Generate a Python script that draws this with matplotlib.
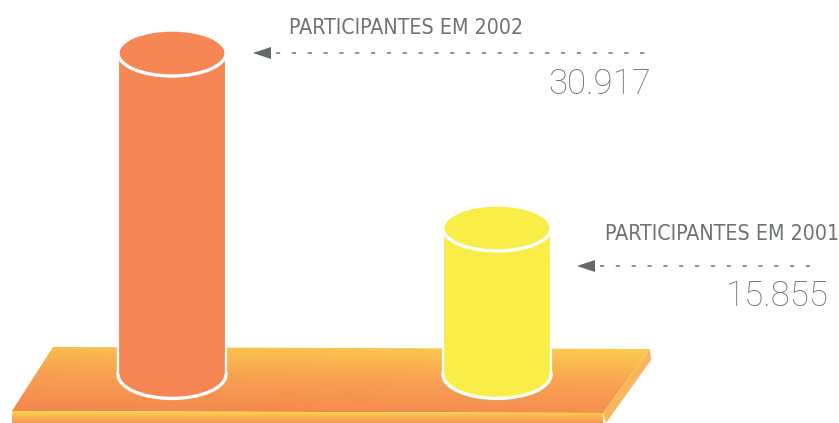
import matplotlib
matplotlib.use("Agg")
import matplotlib.pyplot as plt
import numpy as np
from matplotlib.colors import LinearSegmentedColormap
from matplotlib.patches import Ellipse, Polygon, Rectangle

# data
years = ["2002", "2001"]
participants = [30917, 15855]
labels = ["PARTICIPANTES EM 2002", "PARTICIPANTES EM 2001"]
value_text = ["30.917", "15.855"]
cyl_colors = ["#F68653", "#F9EE48"]

W, H = 839, 423
YLIM = (-930, 35480)  # value scale of the cylinder axes
BASE_V = 3250         # where the cylinders meet the platform
PX_PER_V = H / (YLIM[1] - YLIM[0])

GRAY = "#6d736d"

fig = plt.figure(figsize=(W / 100, H / 100), dpi=100)
fig.patch.set_facecolor("white")

# background axes in pixel coordinates: platform + annotations
bg = fig.add_axes([0, 0, 1, 1], zorder=0)
bg.set_xlim(0, W)
bg.set_ylim(H, 0)
bg.axis("off")

top_cmap = LinearSegmentedColormap.from_list("top", ["#F4854F", "#F7A052", "#FCCD4C"])
yy, xx = np.mgrid[0:1:200j, 0:1:400j]
grad = (1 - yy) * 0.85 + xx * 0.2
top = Polygon([(53, 347), (650, 349), (603, 413), (12, 411)], closed=True,
              facecolor="none", edgecolor="none")
bg.add_patch(top)
im = bg.imshow(grad, cmap=top_cmap, extent=[12, 650, 413, 347], origin="upper",
               aspect="auto", zorder=1)
im.set_clip_path(top)

side = Polygon([(650, 349), (651, 360), (606, 423), (603, 413)], closed=True,
               facecolor="#FAB65C", edgecolor="none", zorder=1)
bg.add_patch(side)

front_cmap = LinearSegmentedColormap.from_list("front", ["#FDD848", "#F9B24F", "#F59A52"])
front = Polygon([(12, 411), (603, 413), (603, 423), (12, 423)], closed=True,
                facecolor="none", edgecolor="none")
bg.add_patch(front)
im2 = bg.imshow(np.linspace(0, 1, 50)[:, None], cmap=front_cmap,
                extent=[12, 603, 423, 411], origin="upper", aspect="auto", zorder=1)
im2.set_clip_path(front)

# annotations: label, arrow, dashed leader, value
ann = [
    dict(lx=289, ly=28, tip=253, ay=53, dash_end=648, nx=651, ny=84),
    dict(lx=605, ly=234, tip=577, ay=266, dash_end=818, nx=829, ny=296),
]
for a, lab, num in zip(ann, labels, value_text):
    bg.text(a["lx"], a["ly"], lab, ha="left", va="center", fontsize=15.3,
            color=GRAY, family="DejaVu Sans", fontstretch="condensed")
    tri = Polygon([(a["tip"], a["ay"]), (a["tip"] + 18, a["ay"] - 6),
                   (a["tip"] + 18, a["ay"] + 6)], closed=True,
                  facecolor="#646a64", edgecolor="none", zorder=3)
    bg.add_patch(tri)
    bg.plot([a["tip"] + 23, a["dash_end"]], [a["ay"], a["ay"]], color="#7d827d",
            lw=1.2, linestyle=(0, (2.5, 7)), zorder=3)
    bg.text(a["nx"], a["ny"], num, ha="right", va="center", fontsize=25,
            color=GRAY, family=["Roboto", "DejaVu Sans"], fontweight="light")

# cylinders on a value scale
ax = fig.add_axes([0, 0, 1, 1], zorder=1)
ax.set_xlim(0, W)
ax.set_ylim(*YLIM)
ax.patch.set_alpha(0)
ax.axis("off")

centers = [172, 497]
cyl_w = 108
ry_top = 23 / PX_PER_V
ry_bot = 24 / PX_PER_V

for cx, v, c in zip(centers, participants, cyl_colors):
    x0 = cx - cyl_w / 2
    ax.add_patch(Ellipse((cx, BASE_V), cyl_w, 2 * ry_bot, facecolor=c,
                         edgecolor="white", lw=2.4, zorder=2))
    ax.add_patch(Rectangle((x0, BASE_V), cyl_w, v - BASE_V, facecolor=c,
                           edgecolor="none", zorder=3))
    ax.plot([x0, x0], [BASE_V, v], color="white", lw=1.6, zorder=4)
    ax.plot([x0 + cyl_w, x0 + cyl_w], [BASE_V, v], color="white", lw=1.6, zorder=4)
    ax.add_patch(Ellipse((cx, v), cyl_w, 2 * ry_top, facecolor=c,
                         edgecolor="white", lw=2.4, zorder=5))

fig.savefig("out.png", dpi=100, facecolor="white")
